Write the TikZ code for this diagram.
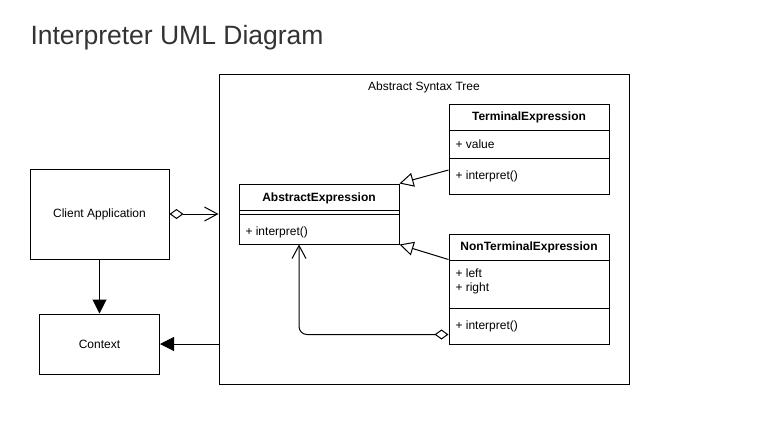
\documentclass[tikz,border=0pt]{standalone}
\usepackage{fontspec}
\setmainfont{Liberation Sans}
\usetikzlibrary{arrows.meta,calc}

\begin{document}
\begin{tikzpicture}[x=1pt, y=-1pt, line width=1pt, font=\fontsize{12}{14}\selectfont,
		box/.style={draw, inner sep=0pt},
		member/.style={anchor=west, inner sep=0pt},
		inherit/.style={-{Triangle[open, length=14pt, width=14pt]}},
		solid arrow/.style={-{Triangle[length=14pt, width=14pt]}}]
			\useasboundingbox (0,0) rectangle (765,432);
			\node[anchor=base west, inner sep=0pt, text=black!80, font=\fontsize{26.5}{30}\selectfont] (title) at (30,44) {Interpreter UML Diagram};
			% client side
			\node[box, minimum width=139, minimum height=90] (client) at (99.5,214) {Client Application};
			\node[box, minimum width=120, minimum height=60] (context) at (99.5,344) {Context};
			% syntax tree frame
			\node[box, minimum width=410, minimum height=310] (ast) at (424,229) {};
			\node (astlabel) at (424,87) {Abstract Syntax Tree};
			% AbstractExpression
			\node[box, minimum width=160, minimum height=60] (abstract) at (319,214) {};
			\node[font=\fontsize{12}{14}\selectfont\bfseries] (abstractname) at (319,198) {AbstractExpression};
			\draw (239,210) -- (399,210);
			\draw (239,214) -- (399,214);
			\node[member] (abstractop) at (245,232) {+ interpret()};
			% TerminalExpression
			\node[box, minimum width=160, minimum height=90] (terminal) at (529,149) {};
			\node[font=\fontsize{12}{14}\selectfont\bfseries] (terminalname) at (529,117) {TerminalExpression};
			\draw (449,130) -- (609,130);
			\node[member] (terminalval) at (455,144) {+ value};
			\draw (449,158) -- (609,158);
			\node[member] (terminalop) at (455,176) {+ interpret()};
			% NonTerminalExpression
			\node[box, minimum width=160, minimum height=110] (nonterminal) at (529,289) {};
			\node[font=\fontsize{12}{14}\selectfont\bfseries] (nonterminalname) at (529,247) {NonTerminalExpression};
			\draw (449,260) -- (609,260);
			\node[member] (nonterminalleft) at (455,273) {+ left};
			\node[member] (nonterminalright) at (455,288) {+ right};
			\draw (449,308) -- (609,308);
			\node[member] (nonterminalop) at (455,326) {+ interpret()};
			% connectors
			\draw[solid arrow] (client.south) -- (context.north);
			\draw[solid arrow] (ast.west |- context.east) -- (context.east);
			\draw[{Diamond[open, length=14pt, width=10pt]}-{Straight Barb[length=13pt, width=14pt]}] (client.east) -- (client.east -| ast.west);
			\draw[inherit] ($(terminal.west)+(0,21)$) -- (abstract.north east);
			\draw[inherit] ($(nonterminal.north west)+(0,26)$) -- (abstract.south east);
			\draw[{Straight Barb[length=13pt, width=14pt]}-{Diamond[open, length=14pt, width=10pt]}, rounded corners=8pt] ($(abstract.south)+(-20,0)$) |- ($(nonterminal.south west)+(0,-10)$);
		\end{tikzpicture}
\end{document}
